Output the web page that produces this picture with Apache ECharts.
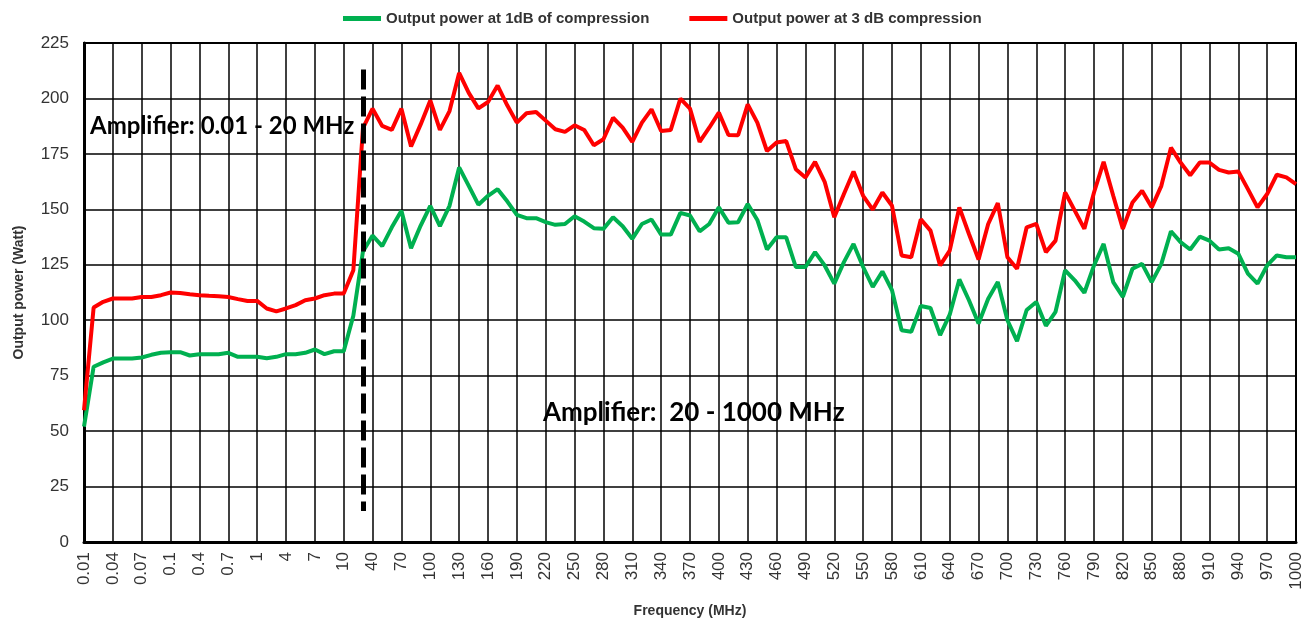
<!DOCTYPE html>
<html>
<head>
<meta charset="utf-8">
<script src="https://cdn.jsdelivr.net/npm/echarts@6/dist/echarts.min.js"></script>
<style>
  html, body { margin: 0; padding: 0; background: #fff; }
  #chart { width: 1307px; height: 624px; }
</style>
</head>
<body>
<div id="chart"></div>
<script>
// frequency categories (MHz): 0.01..0.09, 0.1..0.9, 1..9, 10..1000
var freqs = [];
[0.01, 0.1, 1].forEach(function (step) {
  for (var k = 1; k <= 9; k++) freqs.push(String(+(k * step).toFixed(2)));
});
for (var f = 10; f <= 1000; f += 10) freqs.push(String(f));

// output power at 1 dB compression (W)
var p1dB = [
  52, 79, 81, 82.7, 82.7, 82.7, 83.2, 84.4, 85.3, 85.6,
  85.6, 84.1, 84.7, 84.7, 84.7, 85.3, 83.5, 83.5, 83.5, 82.9,
  83.5, 84.7, 84.7, 85.3, 86.8, 84.7, 86, 86, 102, 131,
  138.2, 133.4, 141.9, 149.4, 132.5, 142.7, 151.6, 142.4, 151.6, 168.9,
  160.6, 152.1, 156.1, 159.1, 153.6, 147.5, 146, 146, 144.2, 143,
  143.4, 146.9, 144.5, 141.5, 141.2, 146.4, 142.4, 136.7, 143.4, 145.4,
  138.6, 138.6, 148.4, 147.2, 140.1, 143.4, 150.9, 144, 144.2, 152.4,
  145.2, 131.9, 137.4, 137.4, 124, 124, 130.7, 124.7, 116.5, 126.2,
  134.4, 124, 115, 122, 113.5, 95.5, 94.8, 106.4, 105.5, 93.3,
  102.5, 118.4, 109, 98.5, 109.7, 117.2, 100, 90.6, 104.6, 108.2,
  97.5, 103.8, 122.5, 118, 112.4, 124.7, 134.4, 117.2, 110.5, 123.2,
  125.4, 117.2, 125.4, 140.1, 135.2, 131.9, 137.7, 135.9, 131.9, 132.5,
  130, 121, 116.5, 124.7, 129.2, 128.4, 128.4
];

// output power at 3 dB compression (W)
var p3dB = [
  59.4, 105.7, 108.3, 109.8, 109.8, 109.8, 110.5, 110.5, 111.3, 112.5,
  112.3, 111.7, 111.3, 111, 110.8, 110.5, 109.5, 108.7, 108.7, 105.3,
  104, 105.3, 106.8, 109, 109.8, 111.3, 112, 112, 122.5, 186.6,
  195.4, 187.6, 185.8, 195.4, 178.3, 188.3, 199.1, 185.8, 194.3, 211.5,
  202.5, 195.5, 198.4, 205.8, 196.9, 189.1, 193.3, 193.9, 190, 186.1,
  184.9, 187.9, 185.8, 178.9, 181.6, 191.3, 186.8, 180.4, 189.1, 195.1,
  185.3, 185.8, 199.9, 195.4, 180.4, 186.8, 193.6, 183.5, 183.4, 197.3,
  189.1, 176.3, 180.1, 180.8, 168.1, 164.4, 171.4, 162.4, 146.4, 156.9,
  167.1, 156.1, 149.9, 157.6, 151.6, 129.2, 128.4, 145.5, 140.4, 124.7,
  131.4, 150.9, 138.9, 127.4, 143.4, 152.8, 128.4, 123.2, 141.9, 143.4,
  130.7, 135.9, 157.6, 149.4, 141.2, 157.6, 171.4, 156.1, 141.2, 153.1,
  158.4, 150.9, 160.6, 177.8, 171.1, 165.4, 171.1, 171.1, 167.8, 166.6,
  167.1, 159.1, 150.9, 156.9, 165.6, 164.4, 161.4
];

var yTicks = [0, 25, 50, 75, 100, 125, 150, 175, 200, 225];
var splitAt = '30';        // band boundary marker
var splitSpan = [213, 14]; // dashed marker extent (W)

var chart = echarts.init(document.getElementById('chart'));
var every3 = function (idx) { return idx % 3 === 0; };

var option = {
  animation: false,
  backgroundColor: '#fff',
  textStyle: { fontFamily: 'Liberation Sans, Arial, sans-serif' },
  legend: {
    top: 6,
    left: 338,
    itemWidth: 38,
    itemHeight: 5,
    itemGap: 40,
    icon: 'rect',
    textStyle: { fontSize: 15, fontWeight: 'bold', color: '#333' },
    data: ['Output power at 1dB of compression', 'Output power at 3 dB compression']
  },
  grid: {
    left: 84, right: 11, top: 43, bottom: 82,
    show: true, borderColor: '#000', borderWidth: 2
  },
  xAxis: {
    type: 'category',
    data: freqs,
    boundaryGap: false,
    name: 'Frequency (MHz)',
    nameLocation: 'middle',
    nameGap: 62,
    nameTextStyle: { fontSize: 14, fontWeight: 'bold', color: '#333' },
    axisLine: { lineStyle: { color: '#000', width: 3 } },
    axisTick: { show: false },
    axisLabel: { interval: every3, rotate: 90, fontSize: 17, color: '#333', margin: 10 },
    splitLine: { show: true, interval: every3, lineStyle: { color: '#000', width: 1.5 } }
  },
  yAxis: {
    type: 'value',
    min: 0, max: 225, interval: 25,
    name: 'Output power (Watt)',
    nameLocation: 'middle',
    nameGap: 58,
    nameTextStyle: { fontSize: 14, fontWeight: 'bold', color: '#333' },
    axisLine: { show: true, lineStyle: { color: '#000', width: 3 } },
    axisTick: { show: false },
    axisLabel: {
      fontSize: 17, color: '#333', margin: 15,
      formatter: function (v) { return yTicks.indexOf(v) >= 0 ? String(v) : ''; }
    },
    splitLine: { show: true, lineStyle: { color: '#000', width: 1.5 } }
  },
  series: [
    {
      name: 'Output power at 1dB of compression',
      type: 'line',
      data: p1dB,
      showSymbol: false,
      symbol: 'none',
      color: '#00B050',
      lineStyle: { width: 4, color: '#00B050' },
      z: 3
    },
    {
      name: 'Output power at 3 dB compression',
      type: 'line',
      data: p3dB,
      showSymbol: false,
      symbol: 'none',
      color: '#FF0000',
      lineStyle: { width: 4, color: '#FF0000' },
      z: 3,
      markLine: {
        silent: true,
        symbol: 'none',
        label: { show: false },
        lineStyle: { color: '#000', width: 5, type: [20, 7] },
        z: 5,
        data: [[
          { coord: [splitAt, splitSpan[0]] },
          { coord: [splitAt, splitSpan[1]] }
        ]]
      }
    }
  ],
  graphic: [
    {
      type: 'text', left: 90, top: 114, z: 10,
      style: { text: 'Amplifier: 0.01 - 20 MHz', font: 'bold 24px Lato, Carlito, sans-serif', fill: '#000' }
    },
    {
      type: 'text', left: 543, top: 400, z: 10,
      style: { text: 'Amplifier:  20 - 1000 MHz', font: 'bold 26px Lato, Carlito, sans-serif', fill: '#000' }
    }
  ]
};

chart.setOption(option);
window.onresize = function () { chart.resize(); };
</script>
</body>
</html>
